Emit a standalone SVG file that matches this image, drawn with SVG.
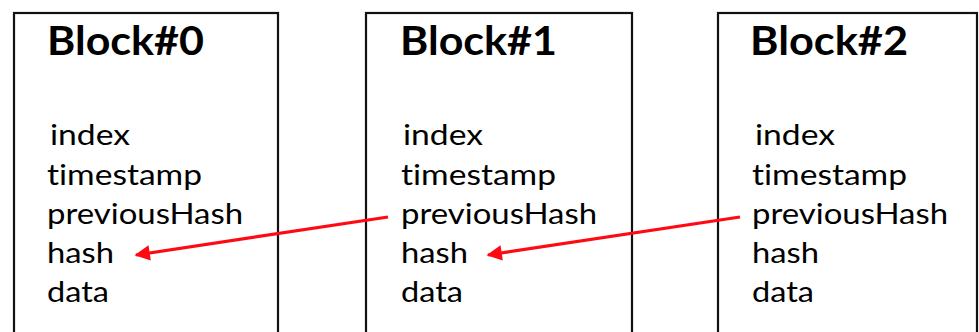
<svg xmlns="http://www.w3.org/2000/svg" width="979" height="332" viewBox="0 0 979 332">
<style>
.box{fill:#fff;stroke:#111;stroke-width:2.2}
.title{font-family:"Lato","Open Sans","Liberation Sans",sans-serif;font-weight:bold;font-size:40px;fill:#000}
.field{font-family:"Lato","Open Sans","Liberation Sans",sans-serif;font-size:29px;fill:#000;font-variant-ligatures:none;font-feature-settings:"liga" 0}
.link{stroke:#ff0a14;stroke-width:3.2;fill:none}
</style>
<defs>
<marker id="ah" viewBox="0 0 10 10" refX="9" refY="5" markerWidth="5.5" markerHeight="4.8" orient="auto" markerUnits="strokeWidth">
<path d="M0,0 L10,5 L0,10 z" fill="#ff0a14"/>
</marker>
</defs>
<rect width="979" height="332" fill="#fff"/>
<g id="block0">
<rect class="box" x="14" y="13" width="264" height="330"/>
<text class="title" x="47" y="55" textLength="157" lengthAdjust="spacingAndGlyphs">Block#0</text>
<text class="field" x="50" y="145" textLength="80" lengthAdjust="spacingAndGlyphs">index</text>
<text class="field" x="47" y="185" textLength="155" lengthAdjust="spacingAndGlyphs">timestamp</text>
<text class="field" x="47" y="224" textLength="196" lengthAdjust="spacingAndGlyphs">previousHash</text>
<text class="field" x="47" y="263" textLength="67" lengthAdjust="spacingAndGlyphs">hash</text>
<text class="field" x="47" y="302" textLength="62" lengthAdjust="spacingAndGlyphs">data</text>
</g>
<g id="block1">
<rect class="box" x="366" y="13" width="266" height="330"/>
<text class="title" x="400" y="55" textLength="157" lengthAdjust="spacingAndGlyphs">Block#1</text>
<text class="field" x="403" y="145" textLength="80" lengthAdjust="spacingAndGlyphs">index</text>
<text class="field" x="401" y="185" textLength="155" lengthAdjust="spacingAndGlyphs">timestamp</text>
<text class="field" x="401" y="224" textLength="196" lengthAdjust="spacingAndGlyphs">previousHash</text>
<text class="field" x="401" y="263" textLength="67" lengthAdjust="spacingAndGlyphs">hash</text>
<text class="field" x="401" y="302" textLength="62" lengthAdjust="spacingAndGlyphs">data</text>
</g>
<g id="block2">
<rect class="box" x="718" y="13" width="259" height="330"/>
<text class="title" x="750" y="55" textLength="158" lengthAdjust="spacingAndGlyphs">Block#2</text>
<text class="field" x="755" y="145" textLength="80" lengthAdjust="spacingAndGlyphs">index</text>
<text class="field" x="752" y="185" textLength="155" lengthAdjust="spacingAndGlyphs">timestamp</text>
<text class="field" x="752" y="224" textLength="196" lengthAdjust="spacingAndGlyphs">previousHash</text>
<text class="field" x="752" y="263" textLength="67" lengthAdjust="spacingAndGlyphs">hash</text>
<text class="field" x="752" y="302" textLength="62" lengthAdjust="spacingAndGlyphs">data</text>
</g>
<g id="connectors">
<line class="link" x1="388" y1="217" x2="136" y2="255" marker-end="url(#ah)"/>
<line class="link" x1="740" y1="217" x2="488" y2="255" marker-end="url(#ah)"/>
</g>
</svg>
